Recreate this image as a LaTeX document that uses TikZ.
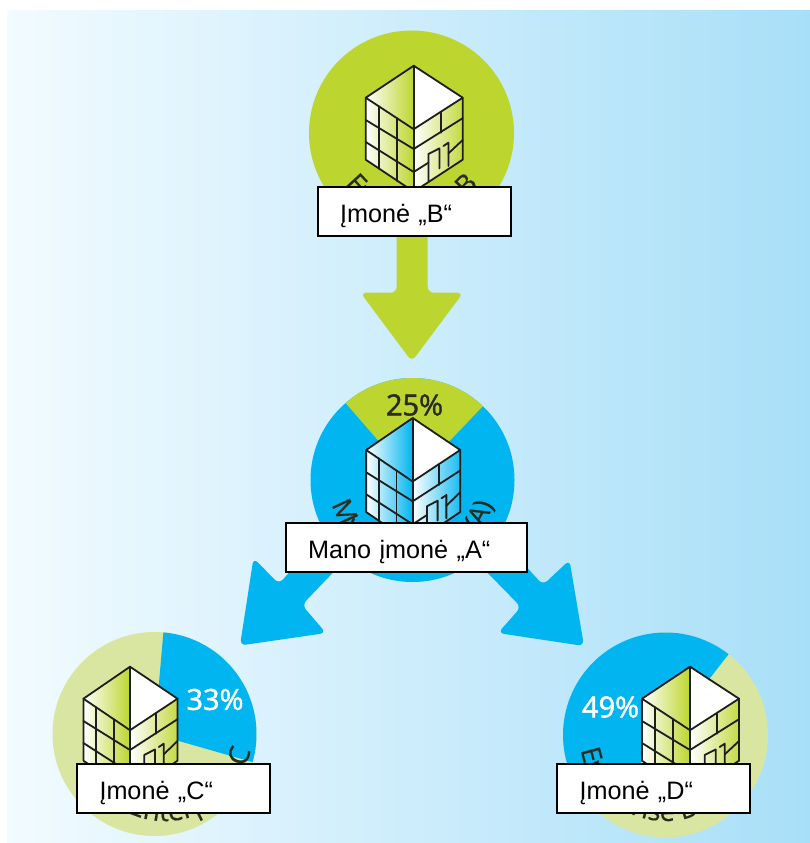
\documentclass[tikz,border=0pt]{standalone}
\usepackage{fontspec}
\setmainfont{Liberation Sans}
\newfontfamily\curvedfont[FakeBold=0.5]{Open Sans}
\newfontfamily\pctfont[FakeBold=1.6]{Open Sans}
\usetikzlibrary{decorations.text}
\definecolor{leaf}{HTML}{BDD62F}
\definecolor{paleleaf}{HTML}{D8E6A2}
\definecolor{sky}{HTML}{00B5F0}
\definecolor{inkline}{HTML}{1E1E1E}
\definecolor{curvedink}{HTML}{2A2C22}
\definecolor{bgleft}{HTML}{F2FBFF}
\definecolor{bgright}{HTML}{A8DFF8}
\tikzset{
  namebox/.style={draw=black,fill=white,line width=2pt,anchor=north west,outer sep=0pt,
    minimum height=49pt,inner xsep=22.5pt,inner ysep=0pt,text height=22.4pt,text depth=0pt,
    align=left,font=\fontsize{25.2pt}{28pt}\selectfont,text=black},
  blockarrow/.style={rounded corners=6pt},
  bline/.style={draw=inkline,line width=1.8pt,line join=round,line cap=round},
  pct/.style={font=\pctfont\fontsize{29pt}{32pt}\selectfont},
}
% #1 x, #2 y of apex, #3 colour, #4 horizontal scale
\newcommand{\buildingat}[4]{%
\begin{scope}[shift={(#1,-#2)},x=#4pt,y=-1pt]
  \fill[white] (0,0) -- (-48,32) -- (-48,94) -- (0,126) -- (49,94) -- (49,32) -- cycle;
  \shade[left color=white,middle color=#3!25,right color=#3] (0,0) -- (-48,32) -- (0,63.5) -- cycle;
  \shade[left color=white,middle color=#3!25,right color=#3] (-48,32) -- (0,63.5) -- (0,126) -- (-48,94) -- cycle;
  \shade[left color=white,middle color=#3!25,right color=#3!90] (0,63.5) -- (49,32) -- (49,94) -- (0,126) -- cycle;
  \draw[bline] (0,0) -- (-48,32) -- (-48,94) -- (0,126) -- (49,94) -- (49,32) -- cycle;
  \draw[bline] (-48,32) -- (0,63.5) -- (49,32);
  \draw[bline] (0,0) -- (0,126);
  \draw[bline] (-48,54.3) -- (0,83.3) -- (49,52.5);
  \draw[bline] (-48,76.3) -- (0,106.3) -- (14.7,97);
  \draw[bline] (-35,40.5) -- (-35,103);
  \draw[bline] (-16.7,52.5) -- (-16.7,115);
  \draw[bline] (27,47) -- (27,67);
  \draw[bline] (14.7,116) -- (14.7,88.3) -- (25.7,82.7) -- (25.7,102.7);
  \draw[bline] (29.7,80.3) -- (34.7,77) -- (34.7,100.3);
  \draw[bline] (34.7,87.7) -- (49,74.3);
\end{scope}}
% #1 cx, #2 cy, #3 radius, #4 start, #5 end, #6 text, #7 size
\newcommand{\curvedlabel}[7]{%
  \path[decorate,decoration={text along path,text align=center,
    text={|\curvedfont\fontsize{#7pt}{#7pt}\selectfont\color{curvedink}|#6}}]
    (#1,-#2) ++(#4:#3) arc[start angle=#4,end angle=#5,radius=#3];}
% #1 cx, #2 cy, #3 r, #4 start, #5 end, #6 colour
\newcommand{\wedgeat}[6]{%
  \fill[#6] (#1,-#2) -- ++(#4:#3) arc[start angle=#4,end angle=#5,radius=#3] -- cycle;}
\begin{document}
\begin{tikzpicture}[x=1pt,y=1pt]
\useasboundingbox (0,0) rectangle (810,-843);
\fill[white] (0,0) rectangle (810,-843);
\shade[left color=bgleft,right color=bgright] (7,-11) rectangle (810,-843);

% arrows
\fill[leaf,blockarrow] (396.7,-225) -- (396.7,-292.7) -- (360.5,-292.7) -- (411.8,-361.5) -- (463.2,-292.7) -- (427.7,-292.7) -- (427.7,-225) -- cycle;
\fill[sky,blockarrow] (253.5,-558) -- (279,-584) -- (300,-560) -- (345,-560) -- (302,-605) -- (326,-633) -- (240,-645.5) -- cycle;
\fill[sky,blockarrow] (569.5,-560) -- (543,-585) -- (520,-560) -- (475,-560) -- (521,-607) -- (498,-633) -- (584,-646) -- cycle;

% discs
\fill[leaf] (411.5,-133) circle[radius=102.5];
\fill[sky] (412.5,-480) circle[radius=102];
\wedgeat{412.5}{480}{102}{46.4}{131}{leaf}
\fill[paleleaf] (154.5,-734) circle[radius=102];
\wedgeat{154.5}{734}{102}{-16}{85}{sky}
\fill[paleleaf] (665.5,-735) circle[radius=102.5];
\wedgeat{665.5}{735}{102.5}{52}{228}{sky}

% curved captions
\curvedlabel{411.5}{133}{84}{205}{335}{Enterprise B}{27}
\curvedlabel{412.5}{480}{84}{190}{350}{My enterprise (A)}{27}
\curvedlabel{165}{734}{87}{232}{362}{Enterprise C}{28}
\curvedlabel{665.5}{735}{86}{177}{307}{Enterprise D}{27}

% percentages
\node[pct,text=curvedink] (pa) at (414.5,-405) {25\%};
\node[pct,text=white] (pc) at (215,-699.5) {33\%};
\node[pct,text=white] (pd) at (610.5,-707) {49\%};

% buildings
\buildingat{413.7}{65.7}{leaf}{1}
\buildingat{412.7}{418}{sky}{0.97}
\buildingat{130}{666.7}{leaf}{0.97}
\buildingat{690}{666.7}{leaf}{1}

% name boxes
\node[namebox,text width=148pt] (b) at (317.5,-187) {Įmonė „B“};
\node[namebox,text width=196.3pt] (a) at (285.7,-523) {Mano įmonė „A“};
\node[namebox,text width=148pt] (c) at (77,-764) {Įmonė „C“};
\node[namebox,text width=148pt] (d) at (557,-764) {Įmonė „D“};
\end{tikzpicture}
\end{document}
